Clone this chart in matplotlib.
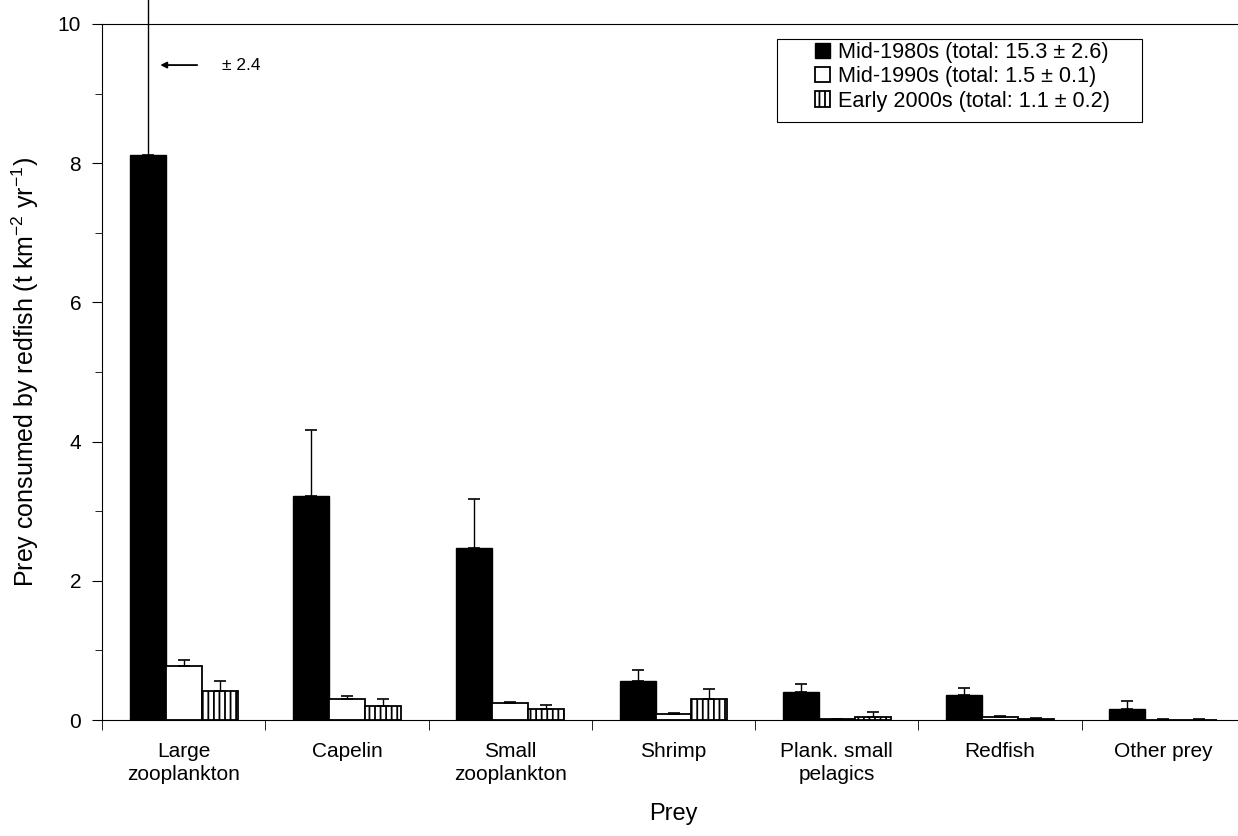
import matplotlib
matplotlib.use("Agg")
import matplotlib.pyplot as plt
from matplotlib.patches import Rectangle
import numpy as np

plt.rcParams['font.family'] = ['Liberation Sans', 'DejaVu Sans']
plt.rcParams['mathtext.fontset'] = 'custom'
plt.rcParams['mathtext.rm'] = 'Liberation Sans'
plt.rcParams['mathtext.it'] = 'Liberation Sans'
plt.rcParams['hatch.linewidth'] = 1.3

prey = ["Large\nzooplankton", "Capelin", "Small\nzooplankton", "Shrimp",
        "Plank. small\npelagics", "Redfish", "Other prey"]

mid80 = [8.12, 3.22, 2.47, 0.56, 0.40, 0.36, 0.16]
mid80_err = [2.4, 0.95, 0.70, 0.16, 0.12, 0.10, 0.12]
mid90 = [0.77, 0.30, 0.24, 0.08, 0.01, 0.05, 0.005]
mid90_err = [0.09, 0.04, 0.02, 0.02, 0.01, 0.01, 0.003]
early00 = [0.42, 0.20, 0.16, 0.30, 0.05, 0.02, 0.005]
early00_err = [0.14, 0.10, 0.05, 0.14, 0.07, 0.005, 0.003]

labels = ["Mid-1980s (total: 15.3 \u00b1 2.6)",
          "Mid-1990s (total: 1.5 \u00b1 0.1)",
          "Early 2000s (total: 1.1 \u00b1 0.2)"]

W, H = 1238, 836
fig = plt.figure(figsize=(W / 100, H / 100), dpi=100)
ax = fig.add_axes([102 / W, 1 - 720 / H, 1143 / W, 696 / H])

x = np.arange(len(prey))
w = 0.22
err_kw = dict(elinewidth=1, capthick=1.2, ecolor='black')
zeros = np.zeros(len(x))

b80 = ax.bar(x - w, mid80, w, color='black', edgecolor='black', linewidth=1,
             label=labels[0], yerr=[zeros, mid80_err], capsize=4, error_kw=err_kw)
ax.bar(x, mid90, w, color='white', edgecolor='black', linewidth=1.3,
       label=labels[1], yerr=[zeros, mid90_err], capsize=4, error_kw=err_kw)
ax.bar(x + w, early00, w, color='white', edgecolor='black', linewidth=1.3, hatch='|||',
       label=labels[2], yerr=[zeros, early00_err], capsize=4, error_kw=err_kw)

# the big error bar runs off the top of the plot in the original
for coll in b80.errorbar.lines[2]:
    coll.set_clip_on(False)

ax.set_xlim(-0.5, len(prey) - 0.5)
ax.set_ylim(0, 10)
ax.set_yticks([0, 2, 4, 6, 8, 10])
ax.set_yticks([1, 3, 5, 7, 9], minor=True)
ax.set_xticks(x)
ax.set_xticklabels(prey, fontsize=15, linespacing=1.25)
ax.set_xticks(np.arange(len(prey) + 1) - 0.5, minor=True)
ax.tick_params(axis='x', which='major', length=0, pad=16)
ax.tick_params(axis='x', which='minor', length=7, direction='out')
ax.tick_params(axis='y', which='major', length=7, direction='out', labelsize=15, pad=8)
ax.tick_params(axis='y', which='minor', length=5, direction='out')
ax.spines['right'].set_visible(False)

ax.set_xlabel("Prey", fontsize=17, labelpad=14)
ax.set_ylabel("Prey consumed by redfish (t km$^{-2}$ yr$^{-1}$)", fontsize=18, labelpad=12)

ax.annotate("", xy=(-0.16, 9.41), xytext=(0.10, 9.41),
            arrowprops=dict(arrowstyle='-|>', color='black', lw=1.3, mutation_scale=9))
ax.text(0.235, 9.41, "\u00b1 2.4", fontsize=12.5, va='center', ha='left')

# legend without its own frame, boxed separately (the original box is wider than its entries)
leg = ax.legend(loc='upper left', bbox_to_anchor=(815 / W, 1 - 42 / H),
                bbox_transform=fig.transFigure, fontsize=15.6, frameon=False,
                handlelength=0.7, handleheight=0.7, handletextpad=0.35,
                labelspacing=0.15, borderpad=0, borderaxespad=0)
fig.patches.append(Rectangle((777 / W, 1 - 122 / H), 365 / W, 83 / H,
                             transform=fig.transFigure, fill=False,
                             edgecolor='black', linewidth=0.8))

fig.savefig("out.png", dpi=100)
